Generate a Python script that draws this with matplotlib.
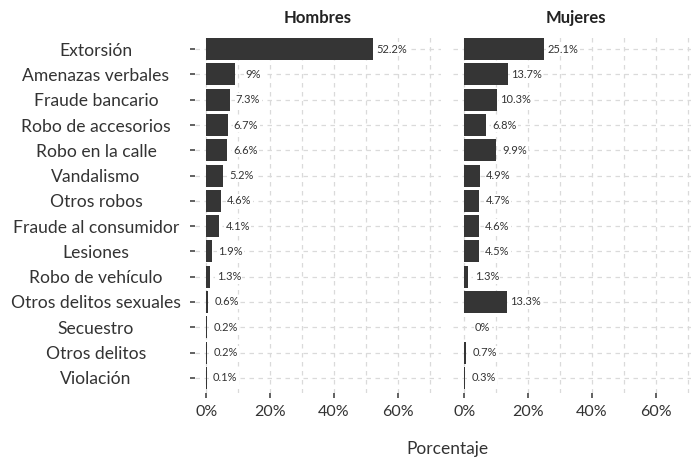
import matplotlib
matplotlib.use("Agg")
import matplotlib.pyplot as plt
from matplotlib.ticker import FixedLocator, FuncFormatter

categorias = ["Extorsión", "Amenazas verbales", "Fraude bancario", "Robo de accesorios",
              "Robo en la calle", "Vandalismo", "Otros robos", "Fraude al consumidor",
              "Lesiones", "Robo de vehículo", "Otros delitos sexuales", "Secuestro",
              "Otros delitos", "Violación"]
hombres = [52.2, 9, 7.3, 6.7, 6.6, 5.2, 4.6, 4.1, 1.9, 1.3, 0.6, 0.2, 0.2, 0.1]
mujeres = [25.1, 13.7, 10.3, 6.8, 9.9, 4.9, 4.7, 4.6, 4.5, 1.3, 13.3, 0, 0.7, 0.3]
paneles = ["Hombres", "Mujeres"]
x_ticks = [0, 20, 40, 60]
x_minor = [10, 30, 50, 70]

plt.rcParams['font.family'] = ['Lato', 'DejaVu Sans']
TXT = "#333333"
BAR = "#353535"
GRID = "#dadada"

W, H = 691, 459
fig = plt.figure(figsize=(W / 100, H / 100), dpi=100)

def px_axes(x0, x1, ytop, ybot):
    return fig.add_axes([x0 / W, 1 - ybot / H, (x1 - x0) / W, (ybot - ytop) / H])

ax1 = px_axes(195, 441, 34, 393)
ax2 = px_axes(453, 699, 34, 393)

ypos = list(range(len(categorias)))
for ax, vals, title in [(ax1, hombres, paneles[0]), (ax2, mujeres, paneles[1])]:
    ax.set_xlim(-3.5, 73.5)
    ax.set_ylim(len(categorias) - 1 + 0.6, -0.6)
    ax.xaxis.set_major_locator(FixedLocator(x_ticks))
    ax.xaxis.set_minor_locator(FixedLocator(x_minor))
    ax.xaxis.set_major_formatter(FuncFormatter(lambda v, p: f"{v:g}%"))
    ax.set_yticks(ypos)
    ax.grid(True, which='both', axis='x', color=GRID, linestyle=(0, (3.6, 3.6)), linewidth=0.9)
    ax.grid(True, which='major', axis='y', color=GRID, linestyle=(0, (3.6, 3.6)), linewidth=0.9)
    ax.set_axisbelow(True)
    for s in ax.spines.values():
        s.set_visible(False)
    ax.barh(ypos, vals, height=0.87, color=BAR, edgecolor='none', zorder=2)
    for y, v in zip(ypos, vals):
        ax.text(v + 5.8, y, f"{v:g}%", ha='center', va='center', fontsize=8, color=TXT,
                zorder=3, bbox=dict(boxstyle='square,pad=0.12', fc='white', ec='none'))
    ax.tick_params(axis='x', which='major', length=3.6, width=1.3, color="#555555",
                   labelsize=11.5, labelcolor=TXT, pad=5)
    ax.tick_params(axis='x', which='minor', length=0)
    ax.set_title(title, fontsize=12, fontweight='bold', color="#222222", pad=8)

ax1.tick_params(axis='y', length=3.6, width=1.3, color="#555555", labelsize=12.6,
                labelcolor=TXT, pad=67.7)
ax1.set_yticklabels(categorias)
for lbl in ax1.get_yticklabels():
    lbl.set_horizontalalignment('center')
ax2.tick_params(axis='y', length=0, labelleft=False)

fig.text(447 / W, 1 - 449 / H, "Porcentaje", ha='center', va='center', fontsize=12.5, color=TXT)

fig.savefig("out.png", dpi=100, facecolor='white')
